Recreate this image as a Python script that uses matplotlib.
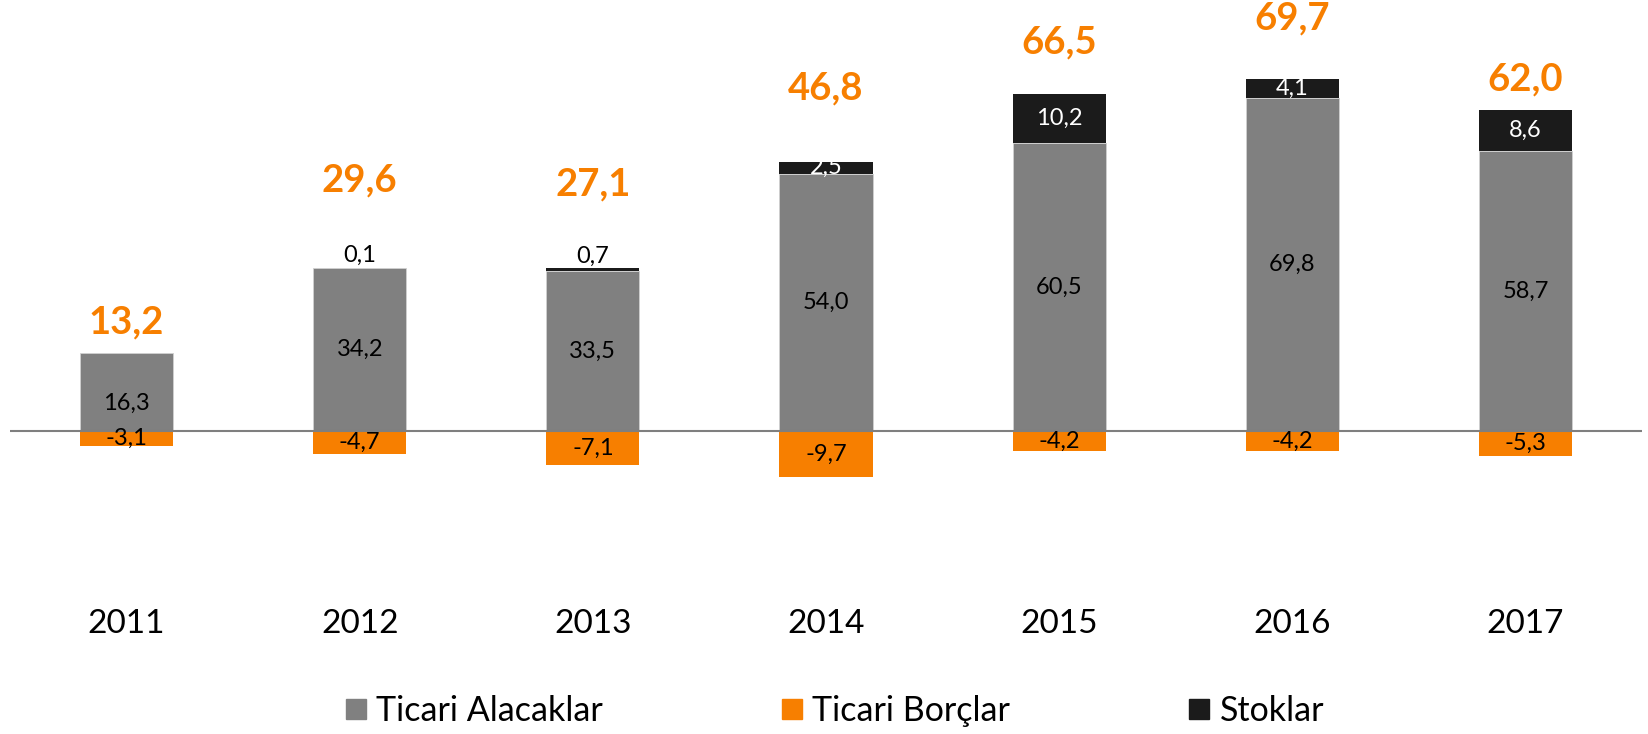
import matplotlib
matplotlib.use('Agg')
from matplotlib import pyplot as plt
from matplotlib.lines import Line2D

plt.rcParams['font.family'] = ['Lato', 'DejaVu Sans']

years = ['2011', '2012', '2013', '2014', '2015', '2016', '2017']
alacak = [16.3, 34.2, 33.5, 54.0, 60.5, 69.8, 58.7]
borc = [-3.1, -4.7, -7.1, -9.7, -4.2, -4.2, -5.3]
stok = [0.0, 0.1, 0.7, 2.5, 10.2, 4.1, 8.6]
totals = [13.2, 29.6, 27.1, 46.8, 66.5, 69.7, 62.0]

# how far above the top of each stack the total sits (points)
total_offset = [22, 63, 60, 53, 37, 43, 22]
# small manual nudge of the grey labels (points)
gray_shift = [-8, 0, 0, 0, 0, 0, 0]

GRAY = '#808080'
ORANGE = '#F77F00'
BLACK = '#1B1B1B'


def fmt(v):
    return f'{v:.1f}'.replace('.', ',')


fig = plt.figure(figsize=(16.49, 7.34), dpi=100)
W, H = 1649, 734
ax = fig.add_axes([10 / W, 1 - 600 / H, 1632 / W, 600 / H])

x = list(range(len(years)))
w = 0.4
ax.bar(x, alacak, w, color=GRAY, edgecolor='#d0d0d0', linewidth=0.6, zorder=2)
ax.bar(x, borc, w, color=ORANGE, zorder=2)
ax.bar(x, stok, w, bottom=alacak, color=BLACK, zorder=2)
ax.axhline(0, color='#7f7f7f', linewidth=1.5, zorder=3)

for i in x:
    ax.annotate(fmt(alacak[i]), (i, alacak[i] / 2), xytext=(0, gray_shift[i]),
                textcoords='offset points', ha='center', va='center',
                fontsize=17, color='black', zorder=4)
    ax.text(i, borc[i] / 2, fmt(borc[i]), ha='center', va='center',
            fontsize=17, color='black', zorder=4)
    if stok[i] > 0:
        if stok[i] < 1:
            ax.annotate(fmt(stok[i]), (i, alacak[i] + stok[i]), xytext=(0, 1),
                        textcoords='offset points', ha='center', va='bottom',
                        fontsize=17, color='black', zorder=4)
        else:
            ax.text(i, alacak[i] + stok[i] / 2, fmt(stok[i]), ha='center',
                    va='center', fontsize=17, color='white', zorder=4)
    ax.annotate(fmt(totals[i]), (i, alacak[i] + stok[i]),
                xytext=(0, total_offset[i]), textcoords='offset points',
                ha='center', va='center', fontsize=27.5, fontweight='bold',
                color=ORANGE, zorder=4)

ax.set_xlim(-0.5, 6.5)
ax.set_ylim(-35.4, 90.4)
ax.set_xticks(x)
ax.set_xticklabels(years, fontsize=24)
ax.tick_params(axis='x', length=0, pad=6.5)
ax.set_yticks([])
for s in ax.spines.values():
    s.set_visible(False)

handles = [Line2D([], [], marker='s', linestyle='none', markersize=15, color=c)
           for c in (GRAY, ORANGE, BLACK)]
fig.legend(handles, ['Ticari Alacaklar', 'Ticari Borçlar', 'Stoklar'],
           loc='center', bbox_to_anchor=(834 / W, 1 - 711 / H), ncol=3,
           frameon=False, fontsize=24.5, columnspacing=5.2, handletextpad=0.25,
           handlelength=0.7, borderpad=0)

fig.savefig('out.png', dpi=100)
